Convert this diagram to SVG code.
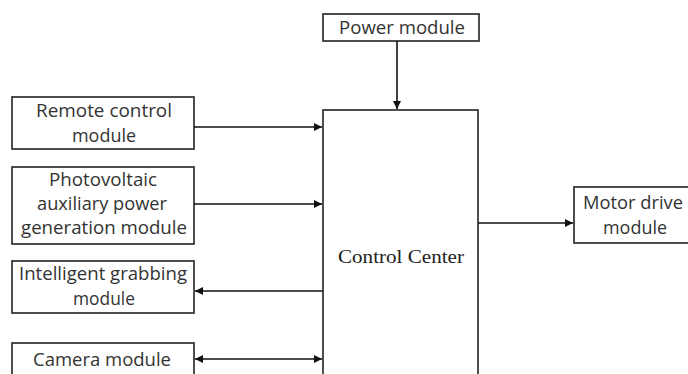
<svg xmlns="http://www.w3.org/2000/svg" width="688" height="374" viewBox="0 0 688 374">
<defs>
<style>
.box{fill:#fff;stroke:#222;stroke-width:1.6}
.t{font-family:"Open Sans","Liberation Sans",sans-serif;font-size:17.5px;fill:#333;text-anchor:middle}
.s{font-family:"Liberation Serif",serif;font-size:19px;fill:#222;text-anchor:middle}
.ln{stroke:#111;stroke-width:1.6;fill:none}
</style>
<marker id="ah" viewBox="0 0 10 10" refX="10" refY="5" markerWidth="9" markerHeight="8" markerUnits="userSpaceOnUse" orient="auto-start-reverse">
<path d="M0,0 L10,5 L0,10 z" fill="#111"/>
</marker>
</defs>
<rect width="688" height="374" fill="#fff"/>
<g id="power"><rect class="box" x="323" y="14" width="156" height="27"/><text class="t" x="402" y="34" textLength="126" lengthAdjust="spacingAndGlyphs">Power module</text></g>
<g id="control"><rect class="box" x="323" y="110" width="155" height="280"/><text class="s" x="401" y="263" textLength="126" lengthAdjust="spacingAndGlyphs">Control Center</text></g>
<g id="remote"><rect class="box" x="12" y="97" width="182" height="52"/><text class="t" x="104" y="117" textLength="136" lengthAdjust="spacingAndGlyphs">Remote control</text><text class="t" x="104" y="142" textLength="64" lengthAdjust="spacingAndGlyphs">module</text></g>
<g id="pv"><rect class="box" x="12" y="167" width="182" height="77"/><text class="t" x="103" y="186" textLength="108" lengthAdjust="spacingAndGlyphs">Photovoltaic</text><text class="t" x="102" y="210" textLength="130" lengthAdjust="spacingAndGlyphs">auxiliary power</text><text class="t" x="104" y="234" textLength="166" lengthAdjust="spacingAndGlyphs">generation module</text></g>
<g id="grab"><rect class="box" x="12" y="261" width="182" height="52"/><text class="t" x="103" y="280" textLength="168" lengthAdjust="spacingAndGlyphs">Intelligent grabbing</text><text class="t" x="104" y="305" textLength="62" lengthAdjust="spacingAndGlyphs">module</text></g>
<g id="camera"><rect class="box" x="12" y="343" width="182" height="50"/><text class="t" x="102" y="366" textLength="138" lengthAdjust="spacingAndGlyphs">Camera module</text></g>
<g id="motor"><rect class="box" x="574" y="187" width="130" height="56"/><text class="t" x="633" y="209" textLength="100" lengthAdjust="spacingAndGlyphs">Motor drive</text><text class="t" x="635" y="234" textLength="64" lengthAdjust="spacingAndGlyphs">module</text></g>
<g id="connectors">
<line class="ln" x1="397" y1="41" x2="397" y2="109" marker-end="url(#ah)"/>
<line class="ln" x1="194" y1="127" x2="322" y2="127" marker-end="url(#ah)"/>
<line class="ln" x1="194" y1="204" x2="322" y2="204" marker-end="url(#ah)"/>
<line class="ln" x1="323" y1="291" x2="195" y2="291" marker-end="url(#ah)"/>
<line class="ln" x1="195" y1="359" x2="322" y2="359" marker-start="url(#ah)" marker-end="url(#ah)"/>
<line class="ln" x1="478" y1="223" x2="573" y2="223" marker-end="url(#ah)"/>
</g>
</svg>
